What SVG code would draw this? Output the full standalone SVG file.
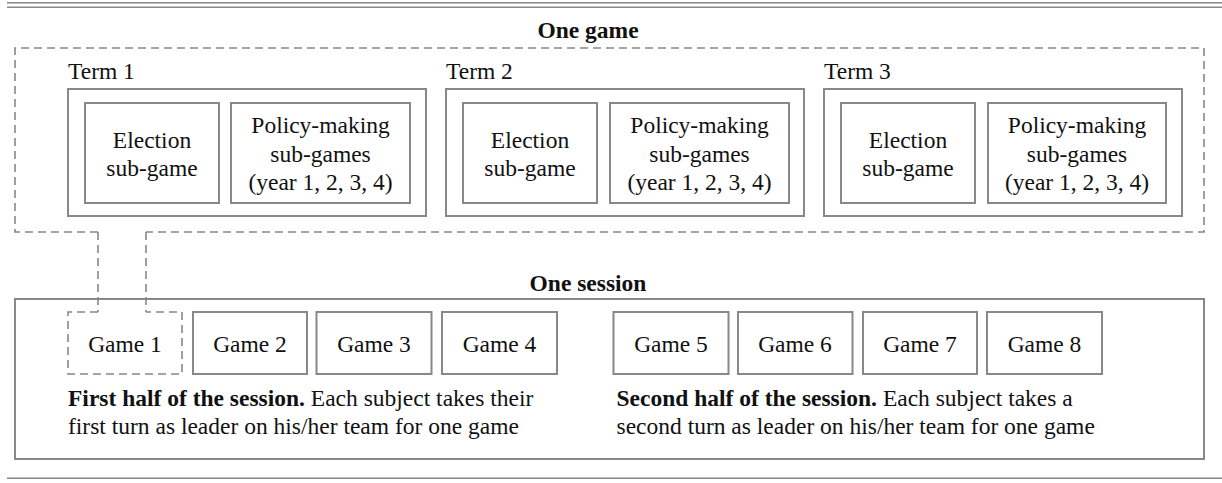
<svg xmlns="http://www.w3.org/2000/svg" width="1222" height="483" viewBox="0 0 1222 483">
<style>
  text { font-family: "Liberation Serif", "Times New Roman", serif; font-size: 23.5px; fill: #111; }
  .b { font-weight: bold; }
  .c { text-anchor: middle; }
  .box { fill: none; stroke: #888; stroke-width: 2; }
  .dash { fill: none; stroke: #888; stroke-width: 1.6; stroke-dasharray: 8 5; }
  .rule { stroke: #888; stroke-width: 1.6; }
</style>
<rect width="1222" height="483" fill="#fff"/>
<g id="rules">
  <line class="rule" x1="7" y1="2.7" x2="1222" y2="2.7"/>
  <line class="rule" x1="7" y1="7.3" x2="1222" y2="7.3"/>
  <line class="rule" x1="7" y1="478.3" x2="1222" y2="478.3"/>
</g>
<g id="one-game">
  <text class="b c" x="588" y="38">One game</text>
  <path class="dash" d="M98,232 H15 V48 H1204 V232 H146"/>
</g>
<g id="term1">
  <text x="68" y="79">Term 1</text>
  <rect class="box" x="68" y="89" width="358" height="127"/>
  <rect class="box" x="85" y="103" width="134" height="100"/>
  <text class="c" x="152" y="147.5">Election</text>
  <text class="c" x="152" y="175.5">sub-game</text>
  <rect class="box" x="231" y="103" width="179" height="100"/>
  <text class="c" x="320.5" y="133">Policy-making</text>
  <text class="c" x="320.5" y="161.5">sub-games</text>
  <text class="c" x="320.5" y="190">(year 1, 2, 3, 4)</text>
</g>
<g id="term2">
  <text x="446" y="79">Term 2</text>
  <rect class="box" x="446" y="89" width="358" height="127"/>
  <rect class="box" x="463" y="103" width="134" height="100"/>
  <text class="c" x="530" y="147.5">Election</text>
  <text class="c" x="530" y="175.5">sub-game</text>
  <rect class="box" x="610" y="103" width="179" height="100"/>
  <text class="c" x="699.5" y="133">Policy-making</text>
  <text class="c" x="699.5" y="161.5">sub-games</text>
  <text class="c" x="699.5" y="190">(year 1, 2, 3, 4)</text>
</g>
<g id="term3">
  <text x="824" y="79">Term 3</text>
  <rect class="box" x="824" y="89" width="358" height="127"/>
  <rect class="box" x="841" y="103" width="134" height="100"/>
  <text class="c" x="908" y="147.5">Election</text>
  <text class="c" x="908" y="175.5">sub-game</text>
  <rect class="box" x="988" y="103" width="178" height="100"/>
  <text class="c" x="1077" y="133">Policy-making</text>
  <text class="c" x="1077" y="161.5">sub-games</text>
  <text class="c" x="1077" y="190">(year 1, 2, 3, 4)</text>
</g>
<g id="one-session">
  <text class="b c" x="588" y="291">One session</text>
  <rect class="box" x="15" y="299" width="1189" height="160"/>
</g>
<g id="game1">
  <path class="dash" d="M98,312 H68 V374 H182 V312 H146"/>
  <text class="c" x="125" y="352">Game 1</text>
</g>
<g id="game2">
  <rect class="box" x="193" y="312" width="114" height="62"/>
  <text class="c" x="250" y="352">Game 2</text>
</g>
<g id="game3">
  <rect class="box" x="316.5" y="312" width="115" height="62"/>
  <text class="c" x="374" y="352">Game 3</text>
</g>
<g id="game4">
  <rect class="box" x="442" y="312" width="115" height="62"/>
  <text class="c" x="499.5" y="352">Game 4</text>
</g>
<g id="game5">
  <rect class="box" x="613.5" y="312" width="115" height="62"/>
  <text class="c" x="671" y="352">Game 5</text>
</g>
<g id="game6">
  <rect class="box" x="738" y="312" width="114.5" height="62"/>
  <text class="c" x="795" y="352">Game 6</text>
</g>
<g id="game7">
  <rect class="box" x="863" y="312" width="114" height="62"/>
  <text class="c" x="920" y="352">Game 7</text>
</g>
<g id="game8">
  <rect class="box" x="987" y="312" width="115" height="62"/>
  <text class="c" x="1044.5" y="352">Game 8</text>
</g>
<g id="caption1">
  <text x="68" y="405.5"><tspan class="b">First half of the session.</tspan> Each subject takes their</text>
  <text x="68" y="433.5">first turn as leader on his/her team for one game</text>
</g>
<g id="caption2">
  <text x="616.5" y="405.5"><tspan class="b">Second half of the session.</tspan> Each subject takes a</text>
  <text x="616.5" y="433.5">second turn as leader on his/her team for one game</text>
</g>
<g id="connectors">
  <line class="dash" x1="98" y1="232" x2="98" y2="312"/>
  <line class="dash" x1="146" y1="232" x2="146" y2="312"/>
</g>
</svg>
